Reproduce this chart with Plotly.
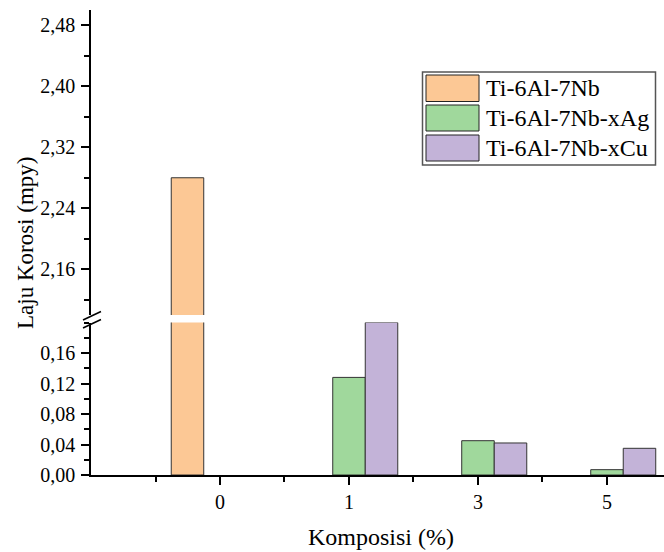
import plotly.graph_objects as go

# Corrosion rate (mpy) by alloying composition (%)
categories = ["0", "1", "3", "5"]
series_names = ["Ti-6Al-7Nb", "Ti-6Al-7Nb-xAg", "Ti-6Al-7Nb-xCu"]
rate_base = [2.28, None, None, None]
rate_ag = [None, 0.128, 0.045, 0.007]
rate_cu = [None, 0.20, 0.042, 0.035]
colors = ["#FCC895", "#A0D89C", "#C3B3D8"]

lower_ticks = [0.00, 0.04, 0.08, 0.12, 0.16]

FONT = "Times New Roman, Liberation Serif, serif"
W, H = 664, 552
L, R, T, B = 91, 0, 10, 77
pw, ph = W - L - R, H - T - B


def px(x):
    return (x - L) / pw


def py(y):
    return (H - B - y) / ph


x_pos = list(range(len(categories)))

fig = go.Figure()
for name, vals, col in zip(series_names, [rate_base, rate_ag, rate_cu], colors):
    for ya in ("y", "y2"):
        fig.add_trace(go.Bar(
            x=x_pos, y=vals, name=name, yaxis=ya, showlegend=False,
            marker=dict(color=col, line=dict(color="#333333", width=1)),
        ))

axis_common = dict(
    showline=True, linecolor="black", linewidth=1.6, mirror=False,
    ticks="outside", ticklen=8, tickwidth=1.6, tickcolor="black",
    showgrid=False, zeroline=False,
    tickfont=dict(family=FONT, size=20, color="black"),
)

# lower panel spans 0-0.20, upper panel 2.10-2.50 on the same pixel scale
d_low = py(322.5)
d_up = py(315)

fig.update_layout(
    width=W, height=H,
    margin=dict(l=L, r=R, t=T, b=B),
    paper_bgcolor="white", plot_bgcolor="white",
    separators=",.",
    barmode="group", bargap=0.244, bargroupgap=0,
    font=dict(family=FONT, color="black"),
    xaxis=dict(
        axis_common, range=[-1, 3.442], tickvals=x_pos, ticktext=categories,
        anchor="y", ticklabelstandoff=0,
        minor=dict(tick0=0.5, dtick=1, ticks="outside", ticklen=5,
                   tickwidth=1.6, tickcolor="black"),
    ),
    yaxis=dict(
        axis_common, domain=[0, d_low], range=[0, 0.2], anchor="x",
        tickmode="array", tickvals=lower_ticks, tickformat=".2f",
        ticklabelstandoff=2,
        minor=dict(tick0=0, dtick=0.02, ticks="outside", ticklen=5,
                   tickwidth=1.6, tickcolor="black"),
    ),
    yaxis2=dict(
        axis_common, domain=[d_up, 1], range=[2.10, 2.50], anchor="x",
        tick0=0, dtick=0.08, tickformat=".2f", ticklabelstandoff=2,
        minor=dict(tick0=0, dtick=0.04, ticks="outside", ticklen=5,
                   tickwidth=1.6, tickcolor="black"),
    ),
    showlegend=False,
)

shapes = []
# axis break marks
for y0, y1 in [(320, 311.5), (328, 319.5)]:
    shapes.append(dict(type="line", xref="paper", yref="paper",
                       x0=px(83), y0=py(y0), x1=px(101), y1=py(y1),
                       line=dict(color="black", width=1.6)))

# legend frame and swatches
shapes.append(dict(type="rect", xref="paper", yref="paper",
                   x0=px(422.5), x1=px(655.5), y0=py(165), y1=py(72),
                   line=dict(color="#555555", width=1.5), fillcolor="white",
                   layer="above"))
annotations = []
rows = [(75, 101.5), (105, 131), (135, 161)]
for (top, bot), name, col in zip(rows, series_names, colors):
    shapes.append(dict(type="rect", xref="paper", yref="paper",
                       x0=px(426), x1=px(479), y0=py(bot), y1=py(top),
                       line=dict(color="#222222", width=1), fillcolor=col,
                       layer="above"))
    annotations.append(dict(
        text=name, xref="paper", yref="paper", x=px(484), y=py((top + bot) / 2),
        xanchor="left", yanchor="middle", showarrow=False,
        font=dict(family=FONT, size=24, color="black"),
    ))

# axis titles
annotations.append(dict(
    text="Laju Korosi (mpy)", xref="paper", yref="paper",
    x=px(25), y=py(243), xanchor="center", yanchor="middle",
    textangle=-90, showarrow=False,
    font=dict(family=FONT, size=23, color="black"),
))
annotations.append(dict(
    text="Komposisi (%)", xref="paper", yref="paper",
    x=px(381), y=py(537), xanchor="center", yanchor="middle",
    showarrow=False, font=dict(family=FONT, size=24, color="black"),
))

fig.update_layout(shapes=shapes, annotations=annotations)

fig.write_html("out.html")
